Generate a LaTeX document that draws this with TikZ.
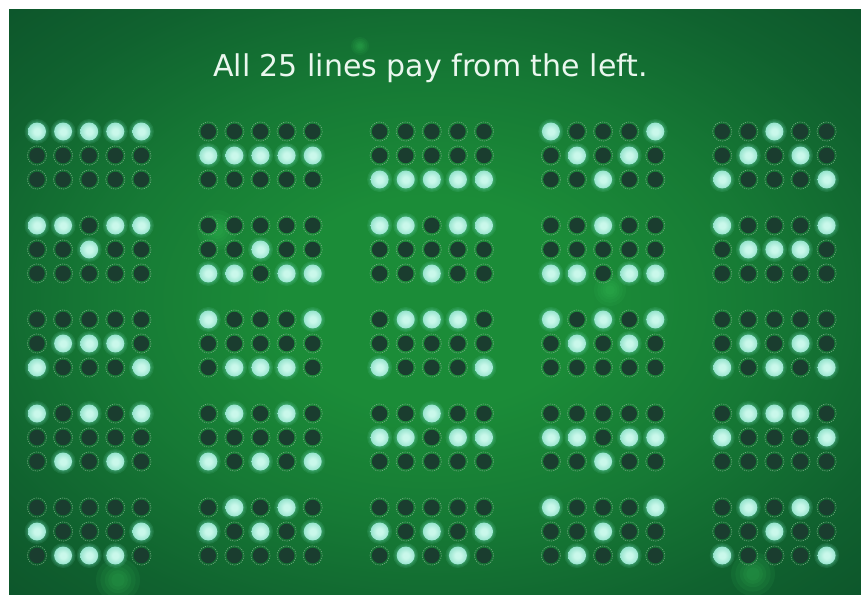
\documentclass[tikz,border=0pt]{standalone}
\usepackage{fontspec}
\setmainfont{DejaVu Sans}
\definecolor{bgdark}{HTML}{0C522A}
\definecolor{bgmidA}{HTML}{10622F}
\definecolor{bgmidB}{HTML}{167A35}
\definecolor{bgbright}{HTML}{1B8C38}
\definecolor{litA}{HTML}{CAF8EB}
\definecolor{litB}{HTML}{8FE1C9}
\definecolor{litC}{HTML}{4CB595}
\definecolor{glowc}{HTML}{6FD8B6}
\definecolor{dotdark}{HTML}{1A3D2F}
\definecolor{ring}{HTML}{78AC86}
\definecolor{spotc}{HTML}{3CCB5E}
\definecolor{titlec}{HTML}{EAF7EE}
\pgfdeclareradialshading{bgshade}{\pgfpoint{0bp}{0bp}}{color(0bp)=(bgbright); color(9bp)=(bgbright); color(19bp)=(bgmidB); color(29bp)=(bgmidA); color(38bp)=(bgdark); color(50bp)=(bgdark)}
\pgfdeclareradialshading{litball}{\pgfpoint{0bp}{0bp}}{color(0bp)=(litA); color(8bp)=(litA); color(28bp)=(litB); color(50bp)=(litC)}
\begin{document}
\begin{tikzpicture}[x=1pt,y=-1pt,
  lit/.style={circle,minimum size=18pt,inner sep=0pt,shade,shading=litball},
  dk/.style={circle,minimum size=15.5pt,inner sep=0pt,fill=dotdark},
  ringc/.style={draw=ring,line width=0.55pt,dash pattern=on 1.2pt off 1.1pt},
  glow/.style={fill=glowc,fill opacity=0.13},
  spot/.style={fill=spotc,fill opacity=0.09},
  title/.style={text=titlec,font=\fontsize{30}{32}\selectfont,inner sep=0pt,anchor=base}]
\useasboundingbox (0,0) rectangle (861,594);
\fill[white] (0,0) rectangle (861,594);
\begin{scope}
  \clip (9,10) rectangle (861,594);
  \shade[shading=bgshade] (9,10) rectangle (861,594);
  \foreach \sx/\sy/\sr in {118/580/22, 753/574/22, 217/230/20, 360/46/9, 610/290/16}{
    \foreach \f in {1.0,0.8,0.6,0.45,0.3}{
      \fill[spot] (\sx,\sy) circle ({\sr*\f});
    }
  }
\end{scope}
\node[title] (ttl) at (430.5,77) {All 25 lines pay from the left.};
\foreach \pat [count=\k from 0] in {{0,0,0,0,0},{1,1,1,1,1},{2,2,2,2,2},{0,1,2,1,0},{2,1,0,1,2},
{0,0,1,0,0},{2,2,1,2,2},{0,0,2,0,0},{2,2,0,2,2},{0,1,1,1,0},
{2,1,1,1,2},{0,2,2,2,0},{2,0,0,0,2},{0,1,0,1,0},{2,1,2,1,2},
{0,2,0,2,0},{2,0,2,0,2},{1,1,0,1,1},{1,1,2,1,1},{1,0,0,0,1},
{1,2,2,2,1},{1,0,1,0,1},{1,2,1,2,1},{0,2,1,2,0},{2,0,1,0,2}}{
  \pgfmathsetmacro\gx{37+171.3*mod(\k,5)}
  \pgfmathsetmacro\gy{131.5+94*int(\k/5)}
  \foreach \lr [count=\c from 0] in \pat {
    \foreach \r in {0,1,2}{
      \pgfmathsetmacro\px{\gx+26.1*\c}
      \pgfmathsetmacro\py{\gy+24*\r}
      \ifnum\r=\lr\relax
        \fill[glow] (\px,\py) circle (12.5);
        \fill[glow] (\px,\py) circle (11.2);
        \fill[glow] (\px,\py) circle (10.2);
        \node[lit] (d\k-\r-\c) at (\px,\py) {};
      \else
        \node[dk] (d\k-\r-\c) at (\px,\py) {};
        \draw[ringc] (d\k-\r-\c.center) circle (9.6);
      \fi
    }
  }
}
\end{tikzpicture}
\end{document}
